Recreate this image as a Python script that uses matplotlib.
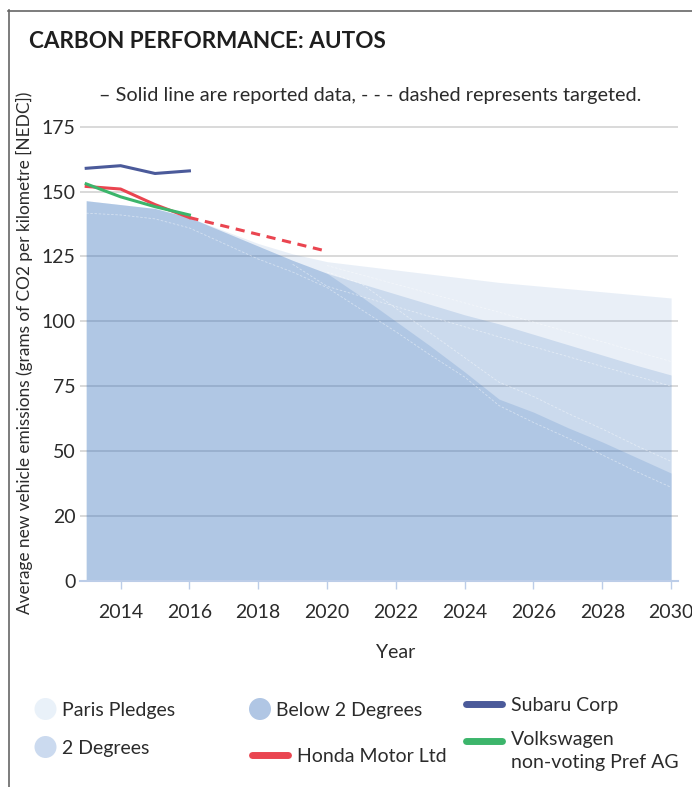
import numpy as np
import matplotlib
matplotlib.use("Agg")
import matplotlib.pyplot as plt
from matplotlib.patches import Circle
from matplotlib.lines import Line2D

plt.rcParams['font.family'] = ['Lato', 'DejaVu Sans']

# benchmark pathways (g CO2/km), yearly
bench_years = np.arange(2013, 2031)
paris = [146.5, 145, 143.5, 140, 135, 130, 126, 123, 121.4, 119.8,
         118.2, 116.6, 115, 113.8, 112.6, 111.4, 110.2, 109]
two_deg = [146.5, 145, 143.5, 140, 134.5, 129, 123.5, 118.5, 114.5, 110.5,
           106.5, 102.5, 99, 95, 91, 87, 83, 79.3]
below_two = [146.5, 145, 143.5, 140, 134.5, 129, 123.5, 118.5, 109.5, 100,
             90.5, 80.5, 70, 65, 59, 53.5, 47.5, 41.5]

# faint range outlines inside the bands
edge_a_years = np.arange(2013, 2031)
edge_a = [141.7, 141, 139.5, 136, 130, 124, 119, 113, 104.5, 96,
          87, 78.5, 67.5, 61, 55, 48.5, 42, 36]
edge_b_years = np.arange(2020, 2031)
edge_b = [119, 114.5, 105, 95.5, 86, 76.5, 71, 64.5, 58.5, 52, 46]
edge_c_years = [2019, 2020, 2025, 2030]
edge_c = [122, 113.5, 94, 75]
edge_d_years = [2020, 2025, 2030]
edge_d = [121.5, 103.5, 84.5]

# companies
rep_years = [2013, 2014, 2015, 2016]
subaru = [159, 160, 157, 158]
honda = [152, 151, 145, 140]
vw = [153, 148, 144.2, 141]
honda_target_years = [2016, 2020]
honda_target = [140, 127]

ytick_vals = [0, 25, 50, 75, 100, 125, 150, 175]
ytick_labels = ['0', '20', '50', '75', '100', '125', '150', '175']

base = '#3773bf'
c_subaru = '#4b5a9a'
c_honda = '#ea4550'
c_vw = '#3cb56b'
txt = '#2b2b2b'

fig = plt.figure(figsize=(6.92, 7.87), dpi=100)
ax = fig.add_axes([80 / 692, 1 - 580.7 / 787, 598 / 692, 459.1 / 787])

ax.fill_between(bench_years, 0, paris, color=base, alpha=0.11, lw=0)
ax.fill_between(bench_years, 0, two_deg, color=base, alpha=0.17, lw=0)
ax.fill_between(bench_years, 0, below_two, color=base, alpha=0.18, lw=0)

for xs, ys in [(edge_a_years, edge_a), (edge_b_years, edge_b),
               (edge_c_years, edge_c), (edge_d_years, edge_d)]:
    ax.plot(xs, ys, color='white', lw=0.6, alpha=0.45, dashes=(3, 2))

ax.plot(rep_years, subaru, color=c_subaru, lw=2.2)
ax.plot(rep_years, honda, color=c_honda, lw=2.2)
ax.plot(honda_target_years, honda_target, color=c_honda, lw=2.2, dashes=(3, 2.2))
ax.plot(rep_years, vw, color=c_vw, lw=2.2)

ax.set_xlim(2012.82, 2030.2)
ax.set_ylim(0, 177)
ax.set_xticks(range(2014, 2031, 2))
ax.set_yticks(ytick_vals)
ax.set_yticklabels(ytick_labels)
ax.yaxis.grid(True, color='#d9d9d9', lw=1.4)
ax.set_axisbelow(True)
for s in ['top', 'right', 'left']:
    ax.spines[s].set_visible(False)
ax.spines['bottom'].set_color('#bccde8')
ax.spines['bottom'].set_linewidth(1.5)
ax.tick_params(axis='x', length=5.8, width=1, color='#bccde8', pad=11,
               labelsize=14, labelcolor=txt)
ax.tick_params(axis='y', length=0, pad=3, labelsize=14, labelcolor=txt)

ax.set_xlabel('Year', fontsize=14, color=txt)
ax.xaxis.set_label_coords(0.528, -0.138)
ax.set_ylabel('Average new vehicle emissions (grams of CO2 per kilometre [NEDC])',
              fontsize=12.4, color=txt)
ax.yaxis.set_label_coords(-0.0786, 0.496)

# overlay in pixel units for frame, titles and legend
ov = fig.add_axes([0, 0, 1, 1], zorder=5)
ov.set_xlim(0, 692)
ov.set_ylim(787, 0)
ov.axis('off')
ov.patch.set_visible(False)

ov.add_line(Line2D([8.5, 8.5], [10, 787], color='#666666', lw=1.2))
ov.add_line(Line2D([8, 692], [10.5, 10.5], color='#666666', lw=1.2))

ov.text(29, 41, 'CARBON PERFORMANCE: AUTOS', fontsize=16.2, fontweight='bold',
        color='#1e1e1e', va='center', ha='left')
ov.text(370, 96, '– Solid line are reported data, - - - dashed represents targeted.',
        fontsize=14.3, color=txt, va='center', ha='center')

legend_fills = [('Paris Pledges', '#e9f1f9', 45.5, 709),
                ('2 Degrees', '#cbdaef', 45.5, 747),
                ('Below 2 Degrees', '#b0c6e4', 260, 709)]
for name, col, cx, cy in legend_fills:
    ov.add_patch(Circle((cx, cy), 11, color=col, lw=0))
    ov.text(cx + 16.5, cy + 1.5, name, fontsize=14, color=txt, va='center', ha='left')

legend_lines = [('Honda Motor Ltd', c_honda, 249, 755),
                ('Subaru Corp', c_subaru, 463, 704),
                ('Volkswagen\nnon-voting Pref AG', c_vw, 463, 741)]
for name, col, x0, cy in legend_lines:
    ov.add_line(Line2D([x0 + 3, x0 + 39], [cy, cy], color=col, lw=5,
                       solid_capstyle='round'))
    if '\n' in name:
        ov.text(x0 + 48, cy - 10, name, fontsize=14, color=txt, va='top', ha='left',
                linespacing=1.4)
    else:
        ov.text(x0 + 48, cy + 2, name, fontsize=14, color=txt, va='center', ha='left')

fig.savefig('out.png', dpi=100)
